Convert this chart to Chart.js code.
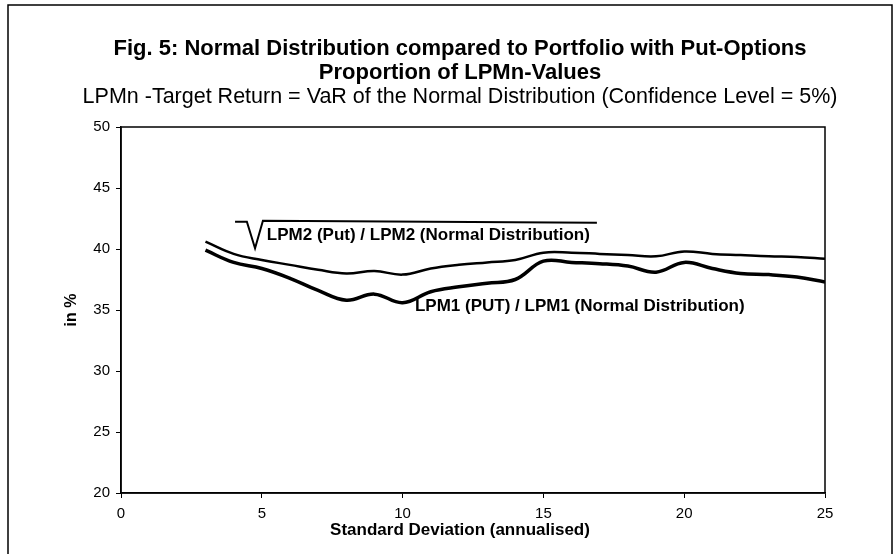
<!DOCTYPE html>
<html>
<head>
<meta charset="utf-8">
<script src="https://cdn.jsdelivr.net/npm/chart.js@4"></script>
<style>
  html, body { margin: 0; padding: 0; background: #fff; }
  #wrap { width: 896px; height: 554px; }
</style>
</head>
<body>
<div id="wrap"><canvas id="graphique" width="896" height="554"></canvas></div>
<script>
// Données (écart-type annualisé -> proportion en %)
const ecartTypes = [3, 4, 5, 6, 7, 8, 9, 10, 11, 12, 13, 14, 15, 16, 17, 18, 19, 20, 21, 22, 23, 24, 25];
const lpm2Ratio = [40.6, 39.6, 39.1, 38.7, 38.3, 38.0, 38.2, 37.9, 38.4, 38.7, 38.9, 39.1, 39.7, 39.7, 39.6, 39.5, 39.4, 39.8, 39.6, 39.5, 39.4, 39.35, 39.2];
const lpm1Ratio = [39.9, 38.9, 38.4, 37.6, 36.6, 35.8, 36.3, 35.6, 36.5, 36.9, 37.2, 37.5, 39.0, 38.9, 38.8, 38.6, 38.1, 38.9, 38.4, 38.0, 37.9, 37.7, 37.3];
const yTicks = [20, 25, 30, 35, 40, 45, 50];
const xTicks = [0, 5, 10, 15, 20, 25];

const titre = ['Fig. 5: Normal Distribution compared to Portfolio with Put-Options', 'Proportion of LPMn-Values'];
const sousTitre = 'LPMn -Target Return = VaR of the Normal Distribution (Confidence Level = 5%)';
const titreX = 'Standard Deviation (annualised)';
const etiquetteLpm2 = 'LPM2 (Put) / LPM2 (Normal Distribution)';
const etiquetteLpm1 = 'LPM1 (PUT) / LPM1 (Normal Distribution)';

// Signe racine au-dessus de l'étiquette LPM2 (en unités des axes)
const signeRacine = [[4.05, 42.24], [4.47, 42.24], [4.76, 40.06], [5.04, 42.32], [16.9, 42.16]];

const police = '"Liberation Sans", Arial, sans-serif';

// Textes et cadres dessinés par-dessus le graphique
const decor = {
  id: 'decor',
  afterDraw(chart) {
    const { ctx, chartArea: a, scales: { x, y } } = chart;
    ctx.save();
    ctx.strokeStyle = '#000';
    ctx.fillStyle = '#000';

    // cadre de la zone de tracé
    ctx.lineWidth = 1.5;
    ctx.strokeRect(a.left, a.top, a.right - a.left, a.bottom - a.top);

    // cadre extérieur (bas coupé)
    ctx.beginPath();
    ctx.moveTo(8, 560); ctx.lineTo(8, 5); ctx.lineTo(892, 5); ctx.lineTo(892, 560);
    ctx.stroke();

    // titres
    ctx.textAlign = 'center';
    ctx.textBaseline = 'middle';
    ctx.font = 'bold 22px ' + police;
    ctx.fillText(titre[0], 460, 49);
    ctx.fillText(titre[1], 460, 73);
    ctx.font = '21.5px ' + police;
    ctx.fillText(sousTitre, 460, 97);

    // titre de l'axe des abscisses
    ctx.font = 'bold 17px ' + police;
    ctx.fillText(titreX, 460, 530);

    // étiquettes des courbes
    ctx.textAlign = 'left';
    ctx.font = 'bold 17px ' + police;
    ctx.fillText(etiquetteLpm2, x.getPixelForValue(5.18), y.getPixelForValue(41.15));
    ctx.fillText(etiquetteLpm1, x.getPixelForValue(10.44), y.getPixelForValue(35.3));

    // signe racine
    ctx.lineWidth = 2;
    ctx.beginPath();
    signeRacine.forEach(([vx, vy], i) => {
      const px = x.getPixelForValue(vx), py = y.getPixelForValue(vy);
      if (i === 0) ctx.moveTo(px, py); else ctx.lineTo(px, py);
    });
    ctx.stroke();
    ctx.restore();
  }
};

const ctx = document.getElementById('graphique').getContext('2d');
new Chart(ctx, {
  type: 'line',
  data: {
    datasets: [{
      label: etiquetteLpm2,
      data: ecartTypes.map((e, i) => ({ x: e, y: lpm2Ratio[i] })),
      borderColor: '#000',
      borderWidth: 2.5,
      pointRadius: 0,
      tension: 0.4,
      fill: false
    }, {
      label: etiquetteLpm1,
      data: ecartTypes.map((e, i) => ({ x: e, y: lpm1Ratio[i] })),
      borderColor: '#000',
      borderWidth: 3.5,
      pointRadius: 0,
      tension: 0.4,
      fill: false
    }]
  },
  options: {
    responsive: false,
    animation: false,
    layout: { padding: { left: 0, right: 71, top: 127, bottom: 0 } },
    plugins: { legend: { display: false }, tooltip: { enabled: false } },
    scales: {
      x: {
        type: 'linear',
        min: 0, max: 25,
        afterBuildTicks: (s) => { s.ticks = xTicks.map((v) => ({ value: v })); },
        afterFit: (s) => { s.height = 61; },
        grid: { drawOnChartArea: false, tickLength: 5, color: '#000', lineWidth: 1 },
        border: { color: '#000', width: 1.5 },
        ticks: { color: '#000', padding: 7, font: { family: police, size: 15 } }
      },
      y: {
        min: 20, max: 50,
        afterBuildTicks: (s) => { s.ticks = yTicks.map((v) => ({ value: v })); },
        afterFit: (s) => { s.width = 121; },
        grid: { drawOnChartArea: false, tickLength: 5, color: '#000', lineWidth: 1 },
        border: { color: '#000', width: 1.5 },
        ticks: { color: '#000', padding: 6, font: { family: police, size: 15 } },
        title: {
          display: true,
          text: 'in %',
          color: '#000',
          padding: { top: 62, bottom: 0 },
          font: { family: police, size: 16, weight: 'bold' }
        }
      }
    }
  },
  plugins: [decor]
});
</script>
</body>
</html>
